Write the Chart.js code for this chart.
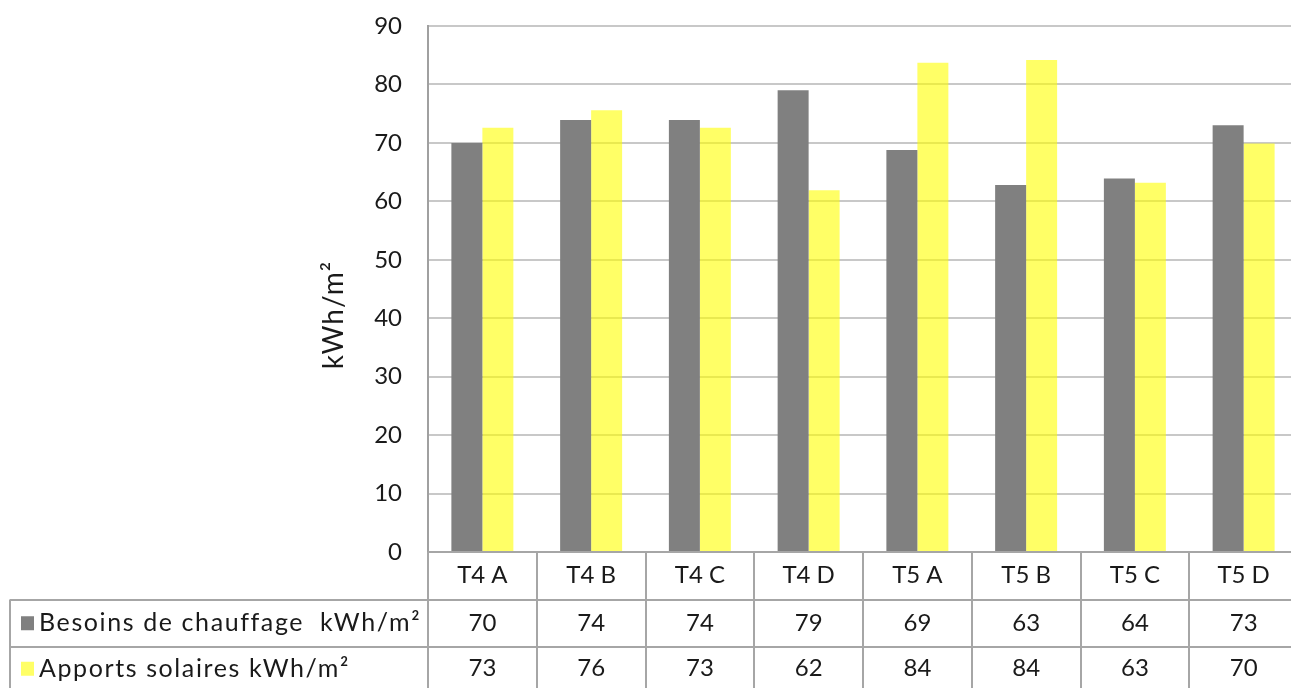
<!DOCTYPE html>
<html>
<head>
<meta charset="utf-8">
<script src="https://cdn.jsdelivr.net/npm/chart.js@4"></script>
<style>
html,body{margin:0;padding:0;background:#fff;overflow:hidden;}
#wrap{width:1298px;height:688px;position:relative;}
</style>
</head>
<body>
<div id="wrap"><canvas id="c"></canvas></div>
<script>
// ---- data ----
const categories = ['T4 A','T4 B','T4 C','T4 D','T5 A','T5 B','T5 C','T5 D'];
const besoins = [70, 73.9, 73.9, 79, 68.8, 62.8, 63.9, 73];
const apports = [72.6, 75.6, 72.6, 61.9, 83.7, 84.2, 63.2, 69.9];
const seriesNames = ['Besoins de chauffage  kWh/m\u00B2', 'Apports solaires kWh/m\u00B2'];
const yTitle = 'kWh/m\u00B2';
const yMin = 0, yMax = 90, yStep = 10;

// ---- styles ----
const FONT = 'Lato, "Open Sans", sans-serif';
const TEXT = '#1a1a1a';
const LINE = '#a6a6a6';
const GRAY = '#808080';
const YELLOW = 'rgba(255,255,0,0.6)';

const tablePlugin = {
  id: 'dataTable',
  afterDraw(chart) {
    const ctx = chart.ctx;
    const xs = chart.scales.x;
    const a = chart.chartArea;
    const n = chart.data.labels.length;
    const colW = (a.right - a.left) / n;
    const top = a.bottom;
    const rowH = 47.5;
    const r1 = top + rowH, r2 = top + 2 * rowH, bottom = chart.height;
    const tableLeft = 10;
    ctx.save();
    ctx.strokeStyle = LINE;
    ctx.lineWidth = 2;
    ctx.beginPath();
    for (let i = 0; i <= n; i++) {
      const x = Math.round(a.left + i * colW);
      ctx.moveTo(x, top); ctx.lineTo(x, bottom);
    }
    ctx.moveTo(a.left, top); ctx.lineTo(a.right, top);
    ctx.moveTo(tableLeft, r1); ctx.lineTo(tableLeft, bottom);
    ctx.moveTo(tableLeft, Math.round(r1)); ctx.lineTo(a.right, Math.round(r1));
    ctx.moveTo(tableLeft, Math.round(r2)); ctx.lineTo(a.right, Math.round(r2));
    ctx.stroke();

    ctx.fillStyle = TEXT;
    ctx.font = '24px ' + FONT;
    ctx.textAlign = 'center';
    ctx.textBaseline = 'middle';
    const c0 = top + rowH / 2, c1 = r1 + rowH / 2, c2 = r2 + rowH / 2 - 2;
    chart.data.labels.forEach((lab, i) => {
      const x = xs.getPixelForValue(i);
      ctx.fillText(lab, x, c0);
      ctx.fillText(String(Math.round(chart.data.datasets[0].data[i])), x, c1);
      ctx.fillText(String(Math.round(chart.data.datasets[1].data[i])), x, c2);
    });
    const rows = [c1, c2];
    ctx.font = '25px ' + FONT;
    ctx.letterSpacing = '1.6px';
    chart.data.datasets.forEach((ds, k) => {
      ctx.fillStyle = ds.backgroundColor;
      ctx.fillRect(21, rows[k] - 7, 13, 14);
      ctx.fillStyle = TEXT;
      ctx.textAlign = 'left';
      ctx.fillText(ds.label, 39, rows[k]);
    });
    // y axis title
    ctx.letterSpacing = '1px';
    ctx.font = '28px ' + FONT;
    ctx.translate(334, 315);
    ctx.rotate(-Math.PI / 2);
    ctx.textAlign = 'center';
    ctx.textBaseline = 'middle';
    ctx.fillText(yTitle, 0, 0);
    ctx.restore();
  }
};

new Chart(document.getElementById('c'), {
  type: 'bar',
  data: {
    labels: categories,
    datasets: [
      { label: seriesNames[0], data: besoins, backgroundColor: GRAY, categoryPercentage: 0.57, barPercentage: 1.0 },
      { label: seriesNames[1], data: apports, backgroundColor: YELLOW, categoryPercentage: 0.57, barPercentage: 1.0 }
    ]
  },
  options: {
    responsive: true,
    maintainAspectRatio: false,
    animation: false,
    layout: { padding: { top: 26, bottom: 136, left: 0, right: 0 } },
    plugins: { legend: { display: false }, tooltip: { enabled: false } },
    scales: {
      x: { display: false },
      y: {
        min: yMin, max: yMax,
        ticks: { stepSize: yStep, padding: 26, color: TEXT, font: { family: FONT, size: 24 } },
        grid: { color: '#c8c8c8', lineWidth: 2, drawTicks: false },
        border: { color: '#a0a0a0', width: 2 },
        afterFit(s) { s.width = 428; s.paddingTop = 0; s.paddingBottom = 0; }
      }
    }
  },
  plugins: [tablePlugin]
});
</script>
</body>
</html>
